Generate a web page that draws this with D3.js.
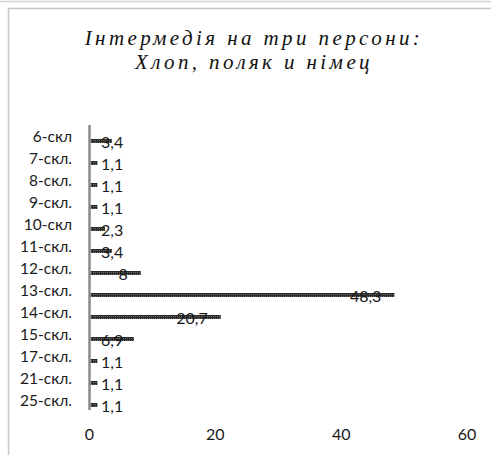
<!DOCTYPE html>
<html>
<head>
<meta charset="utf-8">
<script src="https://cdn.jsdelivr.net/npm/d3@7/dist/d3.min.js"></script>
<style>
  html, body { margin: 0; padding: 0; background: #fff; }
  svg { display: block; }
</style>
</head>
<body>
<svg id="chart" width="491" height="455"></svg>
<script>
// Scene counts per act of the interlude
const categories = ["6-скл", "7-скл.", "8-скл.", "9-скл.", "10-скл", "11-скл.", "12-скл.",
                    "13-скл.", "14-скл.", "15-скл.", "17-скл.", "21-скл.", "25-скл."];
const values = [3.4, 1.1, 1.1, 1.1, 2.3, 3.4, 8, 48.3, 20.7, 6.9, 1.1, 1.1, 1.1];
const valueLabels = ["3,4", "1,1", "1,1", "1,1", "2,3", "3,4", "8", "48,3", "20,7", "6,9", "1,1", "1,1", "1,1"];
const xTicks = [0, 20, 40, 60];
const titleLines = ["Інтермедія на три персони:", "Хлоп, поляк и німец"];

const svg = d3.select("#chart");
const W = 491, H = 455;

// Frame lines
svg.append("line").attr("x1", 0).attr("x2", W).attr("y1", 1.5).attr("y2", 1.5)
  .attr("stroke", "#d4d4d4").attr("stroke-width", 1.5);
svg.append("path")
  .attr("d", `M8.5,${H} V8.5 H${W}`)
  .attr("fill", "none").attr("stroke", "#c8c8c8").attr("stroke-width", 1.5);

// Hatched fill for bars
const defs = svg.append("defs");
const pat = defs.append("pattern").attr("id", "hatch")
  .attr("patternUnits", "userSpaceOnUse").attr("width", 2).attr("height", 2);
pat.append("rect").attr("width", 2).attr("height", 2).attr("fill", "#2a2a2a");
pat.append("rect").attr("x", 1).attr("y", 0).attr("width", 1).attr("height", 1).attr("fill", "#6a6a6a");

// Title
const title = svg.append("text")
  .attr("text-anchor", "middle")
  .attr("font-family", "'Liberation Serif', serif")
  .attr("font-style", "italic")
  .attr("font-size", 21)
  .attr("letter-spacing", 3.4)
  .attr("fill", "#111");
titleLines.forEach((t, i) => {
  title.append("tspan").attr("x", 254).attr("y", 45 + i * 24).text(t);
});

// Scales
const x = d3.scaleLinear().domain([0, 60]).range([89.5, 467]);
const y = d3.scaleBand().domain(categories).range([130, 416]).paddingInner(0).paddingOuter(0);
const barH = 4;
const font = "Lato, 'Open Sans', sans-serif";

// Category labels
svg.append("g").selectAll("text").data(categories).join("text")
  .attr("x", 72)
  .attr("y", d => y(d) + y.bandwidth() / 2 - 4)
  .attr("dy", "0.35em")
  .attr("text-anchor", "end")
  .attr("font-family", font)
  .attr("font-size", 15.5)
  .attr("fill", "#1a1a1a")
  .text(d => d);

// Bars
svg.append("g").selectAll("rect").data(values).join("rect")
  .attr("x", x(0) + 1)
  .attr("y", (d, i) => y(categories[i]) + y.bandwidth() / 2 - barH / 2)
  .attr("width", d => x(d) - x(0))
  .attr("height", barH)
  .attr("fill", "url(#hatch)");

// Vertical axis line
svg.append("line")
  .attr("x1", x(0)).attr("x2", x(0))
  .attr("y1", 125).attr("y2", 410)
  .attr("stroke", "#8a8a8a").attr("stroke-width", 2.5);

// Value labels, near the end of each bar
const vl = svg.append("g").selectAll("text").data(values).join("text")
  .attr("y", (d, i) => y(categories[i]) + y.bandwidth() / 2 + 1)
  .attr("dy", "0.35em")
  .attr("text-anchor", "end")
  .attr("font-family", font)
  .attr("font-size", 16)
  .attr("fill", "#1a1a1a")
  .text((d, i) => valueLabels[i]);
vl.each(function(d) {
  const w = this.getComputedTextLength();
  const xr = Math.max(x(d) - 12, 101 + w);
  d3.select(this).attr("x", xr);
});

// X tick labels
svg.append("g").selectAll("text").data(xTicks).join("text")
  .attr("x", d => x(d))
  .attr("y", 434)
  .attr("dy", "0.35em")
  .attr("text-anchor", "middle")
  .attr("font-family", font)
  .attr("font-size", 16)
  .attr("fill", "#1a1a1a")
  .text(d => d);
</script>
</body>
</html>
